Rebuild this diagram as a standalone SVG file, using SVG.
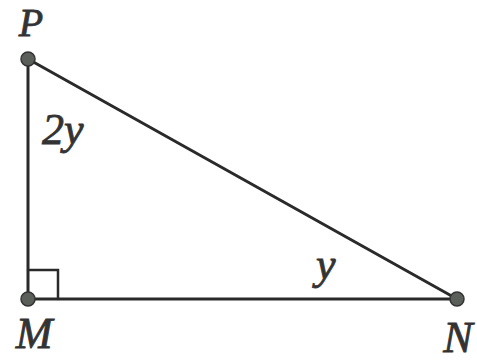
<svg xmlns="http://www.w3.org/2000/svg" width="477" height="362" viewBox="0 0 477 362">
<style>
.edge{stroke:#2a2a2a;stroke-width:3;fill:none;stroke-linecap:round}
.pt{fill:#5a5f5a;stroke:#333;stroke-width:1.5}
.lbl{font-family:"Liberation Serif",serif;font-style:italic;font-size:44px;fill:#333;stroke:#333;stroke-width:0.8}
</style>
<rect width="477" height="362" fill="#fff"/>
<g id="connectors">
<line class="edge" x1="28" y1="59" x2="28" y2="299"/>
<line class="edge" x1="28" y1="299" x2="457" y2="299"/>
<line class="edge" x1="28" y1="59" x2="457" y2="299"/>
<polyline class="edge" points="28,270 58,270 58,299" style="stroke-width:2.5"/>
</g>
<g id="P"><circle class="pt" cx="28" cy="59" r="7"/><text class="lbl" x="31" y="36" text-anchor="middle" style="font-size:40px">P</text></g>
<g id="M"><circle class="pt" cx="28" cy="299" r="7"/><text class="lbl" x="34" y="348" text-anchor="middle">M</text></g>
<g id="N"><circle class="pt" cx="457" cy="299" r="7"/><text class="lbl" x="458" y="352" text-anchor="middle">N</text></g>
<g id="angleP"><text class="lbl" x="42" y="144">2<tspan>y</tspan></text></g>
<g id="angleN"><text class="lbl" x="316" y="279">y</text></g>
</svg>
